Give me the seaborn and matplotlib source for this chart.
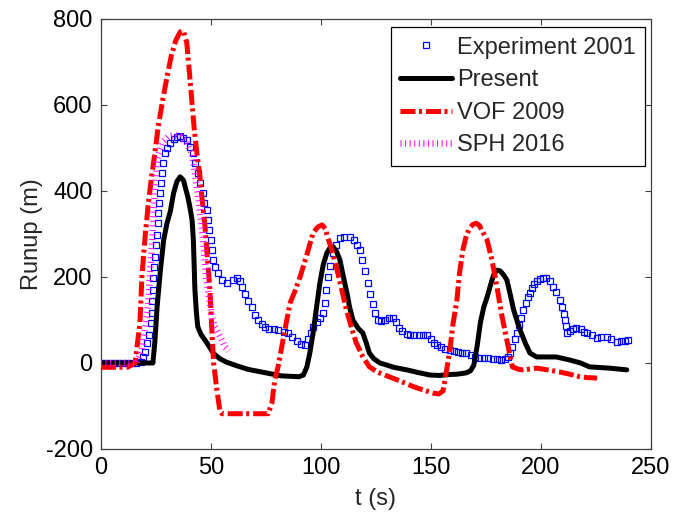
import numpy as np
import pandas as pd
import matplotlib
matplotlib.use("Agg")
import matplotlib.pyplot as plt
import seaborn as sns

sns.set_style("ticks")
plt.rcParams["font.family"] = ["Liberation Sans", "DejaVu Sans"]
plt.rcParams["axes.unicode_minus"] = False

# ---------------------------------
# DATA
# ---------------------------------

exp_t = [0, 2, 4, 6, 8, 10, 12, 14, 16, 18, 19, 20, 21, 21.9, 22.7, 23, 23.3, 23.5, 23.8, 24,
         24.5, 24.8, 25.3, 25.8, 26, 26.5, 26.8, 27.3, 27.6, 28.3, 29, 30.2, 31.4, 33, 34.5, 35.9,
         37.5, 39, 40.5, 42, 42.7, 44, 45, 46.4, 47, 48, 48.6, 49.2, 49.8, 50.3, 51, 51.8, 53,
         54.8, 57.2, 60, 62, 63, 64, 65.5, 67, 68.6, 70, 71.4, 73, 74.5, 76.5, 78.5, 80.5, 83,
         85, 87, 89, 91, 92.7, 94, 95.4, 96.4, 98, 99.5, 101, 101.8, 102.5, 103, 104, 105.5, 107,
         108.6, 110.5, 113, 115, 116.5, 117.7, 118.8, 119.8, 121.4, 122.5, 123.5, 124.5, 126,
         127.5, 129, 131, 132.7, 134, 135.5, 137, 139, 140.5, 142.5, 144.5, 146.5, 148, 150,
         151.5, 152.7, 154.5, 156.5, 158.6, 160.5, 162.5, 164, 166, 168, 170, 172, 174, 176, 178,
         180, 182, 183.5, 185, 186, 187, 188, 189, 190, 191, 192, 193, 194, 195, 196, 197, 198,
         199.5, 201, 202.5, 204, 205.5, 207, 208.6, 209.5, 210.3, 211, 211.5, 212, 213, 214.5,
         216, 218, 219.5, 221, 223, 225.5, 227.5, 230, 232, 234.5, 236.5, 238, 239.5]
exp_y = [0, 0, 0, 0, 0, 0, 0, 0, 0, 3, 14, 26, 47, 65, 93, 116, 143, 170, 197, 223,
         247, 274, 298, 325, 349, 372, 395, 418, 441, 465, 488, 500, 511, 520, 525, 527,
         524, 519, 503, 488, 465, 441, 418, 395, 372, 356, 333, 310, 286, 263, 240, 223, 209,
         193, 186, 193, 197, 190, 177, 160, 145, 130, 112, 100, 90, 84, 80, 78, 77, 72,
         70, 60, 52, 45, 42, 55, 70, 84, 95, 105, 116, 140, 170, 200, 225, 256, 275,
         290, 293, 293, 285, 275, 263, 240, 215, 186, 160, 138, 116, 100,
         97, 100, 104, 105, 95, 82, 75, 68, 65, 65, 65, 65, 65, 55,
         47, 42, 38, 33, 30, 28, 25, 24, 23, 18, 14, 12, 12, 11, 10,
         9, 8, 9, 15, 23, 38, 55, 70, 88, 105, 123, 140, 153, 163, 175, 183, 190,
         195, 198, 197, 190, 177, 165, 147, 130, 115, 100, 85, 70, 74, 78,
         81, 78, 73, 70, 65, 58, 60, 60, 55, 49, 50, 52, 53]

present_t = [0, 23.6, 24.5, 25.5, 27, 28.5, 30, 31.5, 33, 34.5, 36, 37.5, 38.5, 39.5, 40.5, 41.4,
             42, 42.7, 43.4, 44, 45.5, 47.3, 49, 51, 54, 57, 62, 67, 73, 78, 82, 86, 90, 92,
             93.6, 95, 96.4, 98, 99.5, 101, 102.7, 104, 105.5, 107, 108.6, 110, 111.8, 113,
             114.5, 117, 119, 120.5, 122, 124, 126.8, 130, 133, 139, 144, 149.5, 154, 158,
             162, 166, 168, 169.5, 171, 172.5, 174, 175.5, 177, 178.5, 180, 181.5, 183, 184.5,
             186, 187.5, 189, 190.5, 193, 195, 198, 203, 207, 213, 218, 222, 231, 239]
present_y = [0, 0, 50, 130, 215, 286, 325, 352, 395, 422, 433, 425, 405, 386, 360, 333,
             286, 170, 115, 84, 66, 53, 40, 23, 10, 2, -7, -15, -21, -26, -30, -31, -32, -28,
             -9, 25, 70, 130, 186, 228, 256, 267, 270, 260, 240, 205, 163, 130,
             100, 80, 70, 48, 23, 10, 0, -5, -10, -16, -22, -28, -29, -27,
             -26, -23, -18, -5, 40, 95, 130, 153, 180, 205, 216, 214, 205, 193,
             160, 125, 100, 77, 45, 23, 14, 14, 14, 7, 0, -9, -12, -16]

vof_t = [0, 12, 15.5, 17.7, 18.6, 20, 21.5, 23, 24.5, 26, 28, 30, 32, 34, 36, 37.5, 39, 40.5,
         42.3, 43.6, 45, 46, 47.3, 48.3, 49.5, 50.4, 51.2, 52.7, 54, 55, 65, 76, 77.7, 79, 80.5,
         83.6, 86, 88, 90.5, 93.5, 96.4, 98.5, 100.5, 102, 103, 105, 107, 109, 111.6, 114, 116,
         119, 122, 126, 131, 136, 142, 146, 151, 153.5, 155.5, 157, 158.6, 160, 161.8, 163,
         164.5, 166, 167.5, 169, 170.5, 172, 173.5, 175.5, 177.7, 180, 182, 184.5, 187, 190,
         192, 198, 203, 208.6, 213, 217.7, 221, 225.5]
vof_y = [-10, -10, 0, 93, 200, 290, 370, 433, 488, 549, 610, 665, 715, 750, 770, 772, 745, 658,
         549, 488, 433, 379, 316, 250, 170, 77, 0, -63, -110, -118, -118, -118, -93, -40, -9,
         77, 140, 165, 200, 250, 302, 316, 321, 312, 293, 262, 223, 180, 123, 80, 47,
         15, -9, -22, -32, -42, -55, -62, -70, -72, -65, -20, 30, 90, 147, 210,
         263, 295, 313, 322, 325, 320, 305, 286, 240, 177, 116, 53, -9, -15,
         -16, -12, -16, -21, -26, -32, -34, -35]

sph_t = [0, 16, 17, 18.6, 20, 21.4, 22.3, 23, 23.6, 24.2, 25, 25.5, 26.8, 28.3, 30.5, 32.8, 36,
         38.5, 41.4, 42.7, 44, 45, 46, 46.8, 47.8, 49.5, 50.4, 51.8, 53.3, 55, 56.4, 58]
sph_y = [0, 0, 10, 30, 77, 130, 209, 263, 320, 379, 449, 472, 495, 515, 526, 530, 527,
         515, 488, 441, 395, 349, 310, 260, 200, 140, 107, 84, 70, 53, 37, 28]

exp_df = pd.DataFrame({"t": exp_t, "runup": exp_y})
present_df = pd.DataFrame({"t": present_t, "runup": present_y})
vof_df = pd.DataFrame({"t": vof_t, "runup": vof_y})
sph_df = pd.DataFrame({"t": sph_t, "runup": sph_y})

# ---------------------------------
# PLOT
# ---------------------------------

fig, ax = plt.subplots(figsize=(6.75, 5.13), dpi=100)
fig.subplots_adjust(left=0.1496, right=0.9644, top=0.963, bottom=0.1248)

sns.lineplot(data=exp_df, x="t", y="runup", ax=ax, estimator=None, sort=False,
             linestyle="none", marker="s", markersize=4, markerfacecolor="none",
             markeredgecolor="#0000ff", markeredgewidth=0.9, color="#0000ff",
             label="Experiment 2001", zorder=2)
sns.lineplot(data=present_df, x="t", y="runup", ax=ax, estimator=None, sort=False,
             color="black", linewidth=3.6, label="Present", zorder=3)
sns.lineplot(data=vof_df, x="t", y="runup", ax=ax, estimator=None, sort=False,
             color="#ff0000", linewidth=3.6, linestyle=(0, (3.0, 0.7, 0.6, 0.8)),
             label="VOF 2009", zorder=4)
sns.lineplot(data=sph_df, x="t", y="runup", ax=ax, estimator=None, sort=False,
             color="#ff00ff", linewidth=4.7, linestyle=(0, (0.15, 0.55)),
             label="SPH 2016", zorder=5)

ax.set_xlim(0, 250)
ax.set_ylim(-200, 800)
ax.set_xticks([0, 50, 100, 150, 200, 250])
ax.set_yticks([-200, 0, 200, 400, 600, 800])

ax.set_xlabel("t (s)", fontsize=17, labelpad=6)
ax.set_ylabel("Runup (m)", fontsize=17, labelpad=2)

ax.tick_params(direction="in", length=4, width=0.8, labelsize=17, top=True, right=True,
               colors="#404040", labelcolor="black", pad=6)
for side in ["top", "bottom", "left", "right"]:
    ax.spines[side].set_color("#404040")
    ax.spines[side].set_linewidth(0.9)

leg = ax.legend(loc="upper right", bbox_to_anchor=(0.989, 0.981), borderaxespad=0,
                fontsize=17, handlelength=2.2, handletextpad=0.2, labelspacing=0.45,
                borderpad=0.4, numpoints=1, fancybox=False, framealpha=1)
leg.get_frame().set_edgecolor("black")
leg.get_frame().set_linewidth(0.9)

plt.savefig("out.png", dpi=100)
